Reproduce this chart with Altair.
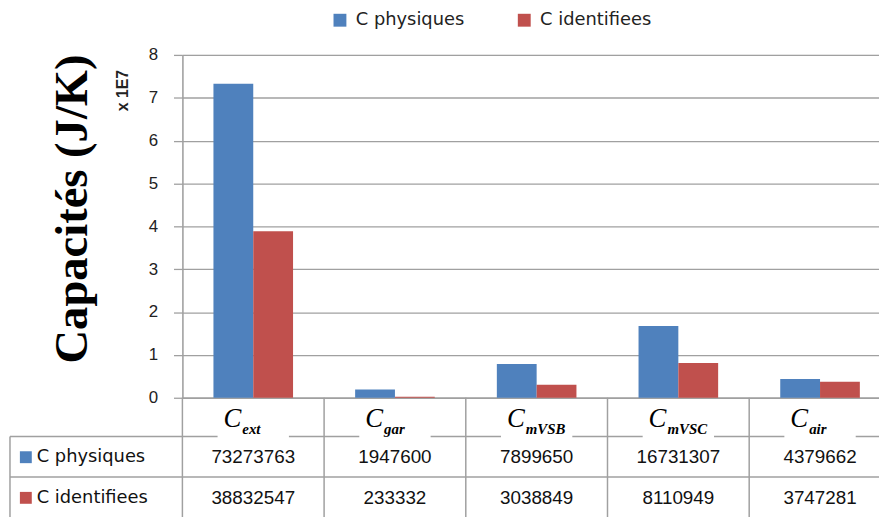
import altair as alt
import pandas as pd

categories = ["Cext", "Cgar", "CmVSB", "CmVSC", "Cair"]
subscripts = ["ext", "gar", "mVSB", "mVSC", "air"]
series = ["C physiques", "C identifiees"]
c_physiques = [73273763, 1947600, 7899650, 16731307, 4379662]
c_identifiees = [38832547, 233332, 3038849, 8110949, 3747281]
colors = ["#4F81BD", "#C0504D"]
y_ticks = [0, 1, 2, 3, 4, 5, 6, 7, 8]

rows = []
for i, c in enumerate(categories):
    rows.append({"cat": c, "sub": subscripts[i], "series": series[0], "value": c_physiques[i]})
    rows.append({"cat": c, "sub": subscripts[i], "series": series[1], "value": c_identifiees[i]})
df = pd.DataFrame(rows)
cat_df = pd.DataFrame({"cat": categories, "sub": subscripts})
ser_df = pd.DataFrame({"series": series})

GRID = "#a0a0a0"
PLOT_H = 346
xscale = alt.Scale(domain=categories, range=[0, 715], paddingInner=0, paddingOuter=0)
X = alt.X("cat:N", sort=categories, scale=xscale, title=None,
          axis=alt.Axis(labels=False, ticks=False, domain=True, domainColor=GRID,
                        domainWidth=1.5))

bars = alt.Chart(df).transform_calculate(v="datum.value / 1e7").mark_bar().encode(
    x=X,
    xOffset=alt.XOffset("series:N", sort=series,
                        scale=alt.Scale(paddingOuter=0.78, paddingInner=0)),
    y=alt.Y("v:Q", scale=alt.Scale(domain=[0, 8]),
            axis=alt.Axis(values=y_ticks, grid=True, gridColor=GRID, gridWidth=1.3,
                          domainColor=GRID, domainWidth=1.5,
                          tickColor=GRID, tickWidth=1.3, tickSize=9, labelPadding=16,
                          labelFontSize=17,
                          labelFont="Liberation Sans", labelColor="#222",
                          title="Capacités (J/K)", titleFont="Liberation Serif",
                          titleFontSize=47, titleFontWeight="bold", titleColor="#000",
                          titleAngle=270, titleX=-97, titleY=155,
                          titleBaseline="alphabetic", titleAlign="center")),
    color=alt.Color("series:N", sort=series,
                    scale=alt.Scale(domain=series, range=colors),
                    legend=alt.Legend(orient="none", legendX=150, legendY=-44,
                                      direction="horizontal", title=None,
                                      symbolType="square", symbolSize=169,
                                      symbolStrokeWidth=0, labelFontSize=18,
                                      labelFont="DejaVu Sans", labelColor="#222",
                                      labelOffset=7, columnPadding=51)),
)

exp_label = alt.Chart(pd.DataFrame({"t": ["x 1E7"]})).mark_text(
    angle=270, fontSize=16, fontWeight="bold", font="Liberation Sans",
    align="center", baseline="middle", color="#222"
).encode(text="t:N", x=alt.value(-60), y=alt.value(36))

# Table structure
row_tops = [PLOT_H + 39, PLOT_H + 80]
hlines = alt.Chart(pd.DataFrame({"y": row_tops})).mark_rule(color=GRID, strokeWidth=1.5).encode(
    x=alt.value(-174), x2=alt.value(705), y=alt.Y("y:Q", scale=None))
vlines = alt.Chart(cat_df).mark_rule(color=GRID, strokeWidth=1.5).encode(
    x=alt.X("cat:N", sort=categories, scale=xscale, bandPosition=0),
    y=alt.value(PLOT_H), y2=alt.value(PLOT_H + 125))
left_border = alt.Chart(pd.DataFrame({"a": [0]})).mark_rule(color=GRID, strokeWidth=1.5).encode(
    x=alt.value(-174), y=alt.value(PLOT_H + 39), y2=alt.value(PLOT_H + 125))
# white gaps in the header line behind the category labels
gaps = alt.Chart(cat_df).mark_bar(width=72, color="white").encode(
    x=alt.X("cat:N", sort=categories, scale=xscale),
    y=alt.value(PLOT_H + 36), y2=alt.value(PLOT_H + 42))

# Header labels
head_c = alt.Chart(cat_df).mark_text(
    text="C", font="Liberation Serif", fontStyle="italic", fontSize=27,
    align="right", baseline="alphabetic", dx=-12, color="#000"
).encode(x=alt.X("cat:N", sort=categories, scale=xscale), y=alt.value(PLOT_H + 30))
head_sub = alt.Chart(cat_df).mark_text(
    font="Liberation Serif", fontStyle="italic", fontSize=15, fontWeight="bold",
    align="left", baseline="alphabetic", dx=-11, color="#000"
).encode(x=alt.X("cat:N", sort=categories, scale=xscale), text="sub:N",
         y=alt.value(PLOT_H + 37))

layers = [bars, hlines, vlines, left_border, gaps, head_c, head_sub, exp_label]
row_centers = [PLOT_H + 60, PLOT_H + 101]
for i, s in enumerate(series):
    vals = alt.Chart(df).transform_filter(alt.datum.series == s).mark_text(
        fontSize=19, font="Liberation Sans", color="#111", baseline="middle"
    ).encode(x=alt.X("cat:N", sort=categories, scale=xscale), text="value:Q",
             y=alt.value(row_centers[i]))
    sq = alt.Chart(ser_df).transform_filter(alt.datum.series == s).mark_square(
        size=144, opacity=1
    ).encode(x=alt.value(-158), y=alt.value(row_centers[i]),
             color=alt.Color("series:N", sort=series,
                             scale=alt.Scale(domain=series, range=colors), legend=None))
    lab = alt.Chart(ser_df).transform_filter(alt.datum.series == s).mark_text(
        fontSize=18, font="DejaVu Sans", color="#111", align="left", baseline="middle"
    ).encode(x=alt.value(-147), y=alt.value(row_centers[i]), text="series:N")
    layers += [vals, sq, lab]

chart = alt.layer(*layers).properties(
    width=703, height=PLOT_H,
    autosize=alt.AutoSizeParams(type="none"),
    padding={"left": 176, "top": 45, "right": 0, "bottom": 118},
).configure_view(stroke=None).configure(background="white")

chart.save("out.html", embed_options={"renderer": "svg", "actions": False})
